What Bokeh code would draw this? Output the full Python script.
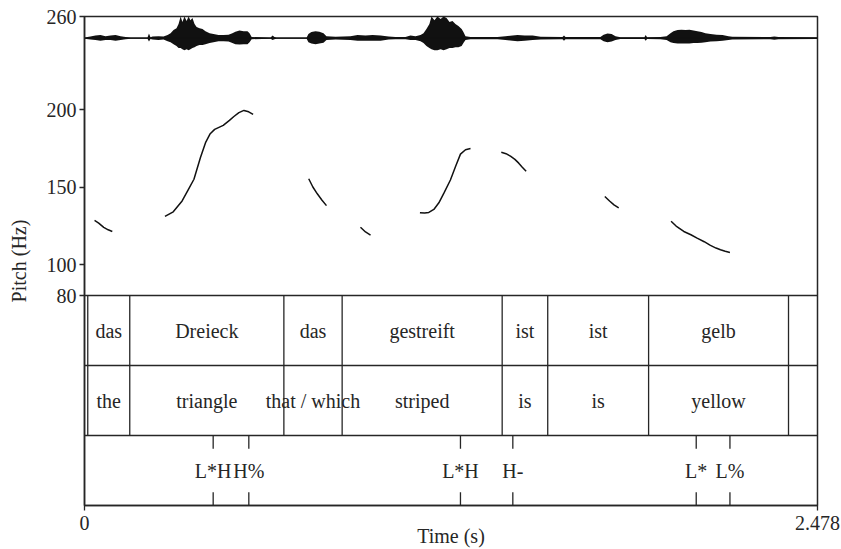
from bokeh.plotting import figure
from bokeh.models import Range1d, FixedTicker, ColumnDataSource
from bokeh.core.properties import value
from bokeh.embed import file_html
from bokeh.resources import INLINE

# ---------------------------------------------------------------- data
DURATION = 2.478
PITCH_TICKS = [80, 100, 150, 200, 260]
TIME_TICKS = [0, 2.478]
TIME_TICK_LABELS = ["0", "2.478"]

# F0 contour, one list per voiced stretch (time in s, pitch in Hz)
PITCH_T = [
    [0.034, 0.048, 0.065, 0.080, 0.094],
    [0.272, 0.300, 0.330, 0.350, 0.370, 0.392, 0.410, 0.425, 0.440,
     0.469, 0.490, 0.505, 0.522, 0.539, 0.555, 0.570],
    [0.758, 0.772, 0.787, 0.803, 0.818],
    [0.933, 0.950, 0.967],
    [1.134, 1.150, 1.164, 1.181, 1.198, 1.215, 1.237, 1.255, 1.271, 1.288, 1.305],
    [1.409, 1.425, 1.440, 1.455, 1.468, 1.480, 1.493],
    [1.759, 1.775, 1.790, 1.806],
    [1.983, 2.000, 2.026, 2.050, 2.071, 2.095, 2.116, 2.135, 2.150, 2.166, 2.182],
]
PITCH_HZ = [
    [128.4, 126.7, 124.0, 122.4, 121.3],
    [131.0, 134.0, 141.0, 148.0, 155.0, 169.0, 179.0, 184.4, 187.2,
     189.8, 193.0, 195.5, 198.0, 199.4, 198.5, 196.8],
    [155.3, 150.0, 145.6, 141.5, 138.0],
    [124.0, 121.0, 119.0],
    [133.4, 133.2, 133.6, 135.5, 139.8, 146.0, 154.5, 163.5, 171.2, 174.0, 174.8],
    [172.4, 171.5, 169.9, 167.8, 165.4, 162.8, 160.2],
    [143.9, 141.0, 138.5, 136.6],
    [127.9, 124.8, 121.3, 119.2, 117.0, 114.7, 112.3, 110.6, 109.5, 108.5, 107.7],
]

# waveform envelope: time (s), positive and negative excursion (full scale = 1)
WAVE_T = [
    0.000, 0.020, 0.037, 0.054, 0.071, 0.088, 0.105, 0.122, 0.139, 0.156,
    0.213, 0.218, 0.223, 0.230, 0.250, 0.267, 0.281, 0.291, 0.301, 0.311,
    0.318, 0.325, 0.331, 0.338, 0.345, 0.352, 0.358, 0.365, 0.372, 0.379,
    0.389, 0.399, 0.409, 0.423, 0.436, 0.453, 0.470, 0.487, 0.500, 0.510,
    0.524, 0.538, 0.551, 0.558, 0.565, 0.629, 0.636, 0.642, 0.649, 0.751,
    0.757, 0.767, 0.781, 0.794, 0.808, 0.818, 0.849, 0.899, 0.923, 0.950,
    0.974, 1.001, 1.028, 1.051, 1.085, 1.102, 1.119, 1.136, 1.146, 1.156,
    1.166, 1.173, 1.183, 1.193, 1.204, 1.214, 1.224, 1.234, 1.244, 1.254,
    1.264, 1.275, 1.281, 1.288, 1.305, 1.396, 1.423, 1.447, 1.464, 1.488,
    1.515, 1.542, 1.616, 1.621, 1.626, 1.744, 1.755, 1.768, 1.782, 1.795,
    1.812, 1.893, 1.897, 1.902, 1.947, 1.968, 1.981, 1.991, 2.005, 2.018,
    2.032, 2.045, 2.059, 2.072, 2.086, 2.099, 2.116, 2.137, 2.157, 2.177,
    2.190, 2.319, 2.332, 2.346, 2.478,
]
WAVE_POS = [
    0.03, 0.07, 0.12, 0.14, 0.09, 0.12, 0.14, 0.09, 0.05, 0.03,
    0.03, 0.21, 0.04, 0.07, 0.09, 0.07, 0.14, 0.23, 0.37, 0.46,
    0.65, 1.00, 0.74, 1.00, 0.79, 1.00, 0.83, 0.93, 0.65, 0.51,
    0.46, 0.42, 0.32, 0.23, 0.19, 0.14, 0.14, 0.16, 0.23, 0.30,
    0.35, 0.32, 0.32, 0.23, 0.05, 0.03, 0.12, 0.05, 0.03, 0.03,
    0.19, 0.28, 0.32, 0.30, 0.23, 0.09, 0.06, 0.09, 0.14, 0.12,
    0.14, 0.12, 0.07, 0.05, 0.05, 0.12, 0.09, 0.14, 0.23, 0.42,
    0.65, 1.00, 0.83, 1.00, 0.88, 1.00, 0.93, 0.74, 0.79, 0.65,
    0.56, 0.42, 0.28, 0.09, 0.05, 0.05, 0.09, 0.12, 0.14, 0.12,
    0.12, 0.06, 0.05, 0.12, 0.05, 0.05, 0.16, 0.21, 0.19, 0.09,
    0.04, 0.04, 0.14, 0.04, 0.05, 0.09, 0.23, 0.32, 0.37, 0.39,
    0.37, 0.39, 0.35, 0.32, 0.28, 0.23, 0.19, 0.16, 0.14, 0.09,
    0.06, 0.05, 0.08, 0.05, 0.04,
]
WAVE_NEG = [
    0.03, 0.07, 0.09, 0.12, 0.09, 0.09, 0.12, 0.09, 0.05, 0.03,
    0.03, 0.16, 0.04, 0.07, 0.09, 0.07, 0.14, 0.19, 0.28, 0.37,
    0.46, 0.46, 0.51, 0.56, 0.51, 0.56, 0.51, 0.46, 0.42, 0.37,
    0.32, 0.32, 0.28, 0.23, 0.19, 0.14, 0.14, 0.16, 0.23, 0.28,
    0.30, 0.28, 0.28, 0.19, 0.05, 0.03, 0.09, 0.05, 0.03, 0.03,
    0.19, 0.25, 0.28, 0.25, 0.21, 0.09, 0.06, 0.09, 0.12, 0.12,
    0.12, 0.12, 0.07, 0.05, 0.05, 0.09, 0.09, 0.14, 0.23, 0.37,
    0.46, 0.51, 0.56, 0.56, 0.51, 0.56, 0.51, 0.46, 0.46, 0.42,
    0.42, 0.37, 0.23, 0.09, 0.05, 0.05, 0.09, 0.12, 0.14, 0.12,
    0.09, 0.06, 0.05, 0.12, 0.05, 0.05, 0.14, 0.19, 0.16, 0.09,
    0.04, 0.04, 0.12, 0.04, 0.05, 0.09, 0.19, 0.23, 0.25, 0.25,
    0.25, 0.25, 0.23, 0.23, 0.21, 0.19, 0.16, 0.14, 0.12, 0.09,
    0.06, 0.05, 0.08, 0.05, 0.04,
]

# TextGrid: interval boundaries shared by both word tiers
WORD_BOUNDS = [0.0, 0.011, 0.153, 0.674, 0.871, 1.412, 1.566, 1.907, 2.380, 2.478]
GERMAN_WORDS = ["", "das", "Dreieck", "das", "gestreift", "ist", "ist", "gelb", ""]
ENGLISH_WORDS = ["", "the", "triangle", "that / which", "striped", "is", "is", "yellow", ""]

# TextGrid: tone point tier
TONE_T = [0.435, 0.5555, 1.271, 1.448, 2.068, 2.182]
TONE_LABELS = ["L*H", "H%", "L*H", "H-", "L*", "L%"]

# ---------------------------------------------------------------- layout
PITCH_LO, PITCH_HI = 80, 260
TIER_H = 45.16                      # one tier, in pitch-axis units
N_TIERS = 3
Y_LO = PITCH_LO - N_TIERS * TIER_H
WAVE_BASE = 246.06                  # waveform zero line
WAVE_GAIN = 13.94                   # full-scale excursion

INK = "#262626"
FONT = "Liberation Serif"
FSIZE = "20px"

p = figure(
    width=841, height=549,
    x_range=Range1d(0, DURATION), y_range=Range1d(Y_LO, PITCH_HI),
    output_backend="svg", toolbar_location=None,
    min_border_left=84, min_border_right=24,
    min_border_top=16, min_border_bottom=44,
    background_fill_color="white", border_fill_color="white",
)
p.xgrid.visible = False
p.ygrid.visible = False
p.outline_line_color = INK
p.outline_line_width = 1.5

# axes
for ax in (p.xaxis[0], p.yaxis[0]):
    ax.axis_line_color = INK
    ax.axis_line_width = 1.5
    ax.major_tick_line_color = INK
    ax.major_tick_line_width = 1.3
    ax.major_tick_in = 0
    ax.major_tick_out = 5
    ax.minor_tick_line_color = None
    ax.major_label_text_font = FONT
    ax.major_label_text_font_size = FSIZE
    ax.major_label_text_color = INK
    ax.axis_label_text_font = FONT
    ax.axis_label_text_font_size = FSIZE
    ax.axis_label_text_font_style = "normal"
    ax.axis_label_text_color = INK

p.yaxis.ticker = FixedTicker(ticks=PITCH_TICKS)
p.yaxis.axis_label = "Pitch (Hz)"
p.yaxis.major_label_standoff = 3
p.yaxis.axis_label_standoff = 14

# the time title is tucked up between the two end labels
p.xaxis.ticker = FixedTicker(ticks=TIME_TICKS)
p.xaxis.major_label_overrides = {t: s for t, s in zip(TIME_TICKS, TIME_TICK_LABELS)}
p.xaxis.axis_label = "Time (s)"
p.xaxis.major_label_standoff = 5
p.xaxis.axis_label_standoff = -8

# waveform
wave_src = ColumnDataSource(dict(
    t=WAVE_T,
    lo=[WAVE_BASE - a * WAVE_GAIN for a in WAVE_NEG],
    hi=[WAVE_BASE + a * WAVE_GAIN for a in WAVE_POS],
))
p.varea(x="t", y1="lo", y2="hi", source=wave_src, fill_color="#111111")
p.line([0, DURATION], [WAVE_BASE, WAVE_BASE], line_color="#111111", line_width=1.2)

# pitch contour
p.multi_line(xs=PITCH_T, ys=PITCH_HZ, line_color="#111111", line_width=1.5)

# tier separators
tier_tops = [PITCH_LO - k * TIER_H for k in range(N_TIERS)]
p.segment(x0=[0] * N_TIERS, x1=[DURATION] * N_TIERS, y0=tier_tops, y1=tier_tops,
          line_color=INK, line_width=1.5)

# interval boundaries in the two word tiers
inner = WORD_BOUNDS[1:-1]
p.segment(x0=inner, x1=inner, y0=[PITCH_LO - 2 * TIER_H] * len(inner),
          y1=[PITCH_LO] * len(inner), line_color=INK, line_width=1.3)

mids = [(a + b) / 2 for a, b in zip(WORD_BOUNDS[:-1], WORD_BOUNDS[1:])]
text_style = dict(text_font=value(FONT), text_font_size=value(FSIZE),
                  text_color=INK, text_align="center", text_baseline="middle")
p.text(x=mids, y=[PITCH_LO - 0.5 * TIER_H] * len(mids), text=GERMAN_WORDS, **text_style)
p.text(x=mids, y=[PITCH_LO - 1.5 * TIER_H] * len(mids), text=ENGLISH_WORDS, **text_style)

# tone tier: point marks with labels
tone_top = PITCH_LO - 2 * TIER_H
tone_bot = PITCH_LO - 3 * TIER_H
mark = 0.19 * TIER_H
n = len(TONE_T)
p.segment(x0=TONE_T, x1=TONE_T, y0=[tone_top] * n, y1=[tone_top - mark] * n,
          line_color=INK, line_width=1.3)
p.segment(x0=TONE_T, x1=TONE_T, y0=[tone_bot] * n, y1=[tone_bot + mark] * n,
          line_color=INK, line_width=1.3)
p.text(x=TONE_T, y=[PITCH_LO - 2.5 * TIER_H] * n, text=TONE_LABELS, **text_style)

open("out.html", "w").write(file_html(p, INLINE))
